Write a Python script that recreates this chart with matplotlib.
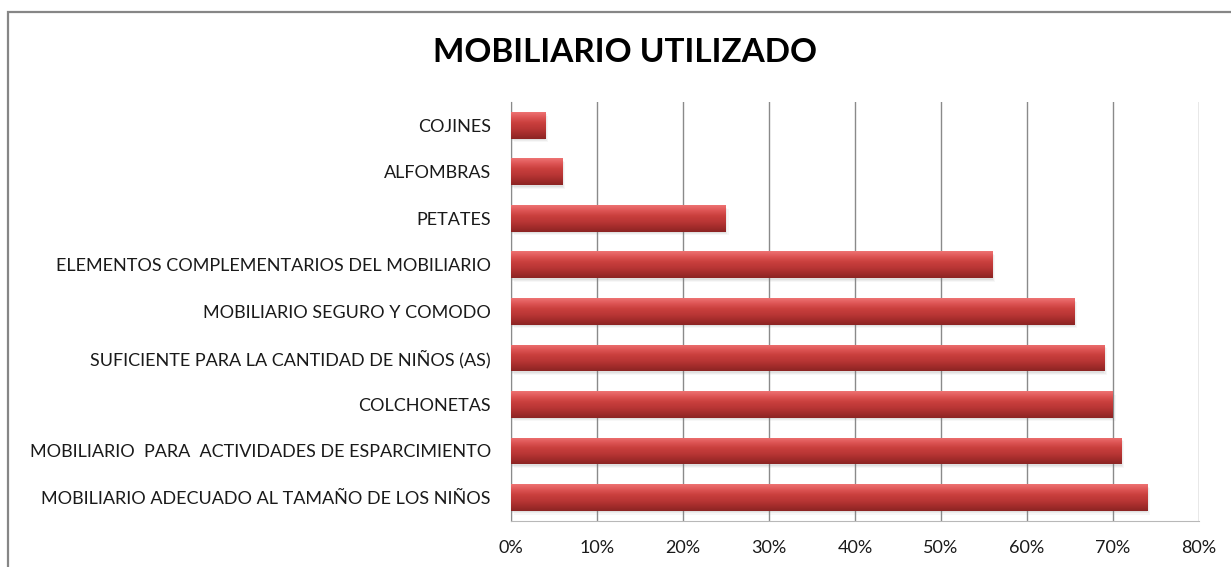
import matplotlib
matplotlib.use("Agg")
import matplotlib.pyplot as plt
import numpy as np
from matplotlib.colors import LinearSegmentedColormap
from matplotlib.patches import Rectangle
from matplotlib.ticker import PercentFormatter

# categories listed top to bottom as in the chart
categories = [
    "COJINES",
    "ALFOMBRAS",
    "PETATES",
    "ELEMENTOS COMPLEMENTARIOS DEL MOBILIARIO",
    "MOBILIARIO SEGURO Y COMODO",
    "SUFICIENTE PARA LA CANTIDAD DE NIÑOS (AS)",
    "COLCHONETAS",
    "MOBILIARIO  PARA  ACTIVIDADES DE ESPARCIMIENTO",
    "MOBILIARIO ADECUADO AL TAMAÑO DE LOS NIÑOS",
]
values = [4, 6, 25, 56, 65.5, 69, 70, 71, 74]
xticks = [0, 10, 20, 30, 40, 50, 60, 70, 80]

FONT = ["Lato", "DejaVu Sans"]
plt.rcParams["font.family"] = FONT

fig = plt.figure(figsize=(12.31, 5.67), dpi=100)
fig.patches.append(Rectangle((8 / 1231, -0.1), 1.2, 1 - 12 / 567 + 0.1,
                             transform=fig.transFigure, fill=False,
                             edgecolor="#868686", lw=1.6))

ax = fig.add_axes([511 / 1231, 1 - 520.7 / 567, 688 / 1231, 418.7 / 567])
pos = np.arange(len(categories))
h = 0.574

# soft shadow beneath each bar
for k, a in enumerate([0.10, 0.08, 0.06]):
    ax.barh(pos + 0.03 + 0.025 * k, values, height=h, left=0.15 * k,
            color="#7a7a7a", alpha=a, zorder=2.5, lw=0)

bars = ax.barh(pos, values, height=h, color="#c0392f", zorder=3, lw=0)

# cylinder-like vertical shading (inverted axis: first row = top of bar)
cmap = LinearSegmentedColormap.from_list(
    "bar", ["#ee7272", "#dd5454", "#c93f3d", "#bb3736", "#a52d2c", "#8c2423"])
grad = np.linspace(0, 1, 64).reshape(-1, 1)
for b in bars:
    x0, y0, w, hh = b.get_x(), b.get_y(), b.get_width(), b.get_height()
    im = ax.imshow(grad, extent=[x0, x0 + w, y0 + hh, y0], aspect="auto",
                   cmap=cmap, zorder=3.5, origin="upper", interpolation="bilinear")
    im.set_clip_path(b)

ax.set_xlim(0, 80)
ax.set_ylim(len(categories) - 0.5, -0.5)
ax.set_xticks(xticks)
ax.xaxis.set_major_formatter(PercentFormatter(decimals=0))
ax.set_yticks(pos)
ax.set_yticklabels(categories)
ax.tick_params(axis="both", length=0, labelsize=13, colors="#1a1a1a")
ax.tick_params(axis="x", pad=14)
ax.tick_params(axis="y", pad=14.5)
ax.grid(axis="x", color="#8a8a8a", lw=1, zorder=1)
ax.set_axisbelow(True)
for s in ["top", "right"]:
    ax.spines[s].set_visible(False)
ax.spines["left"].set_color("#8a8a8a")
ax.spines["bottom"].set_color("#b8b8b8")

fig.text(625 / 1231, 1 - 53 / 567, "MOBILIARIO UTILIZADO", ha="center",
         va="center", fontsize=24, fontweight="bold", color="black")

fig.savefig("out.png", dpi=100)
